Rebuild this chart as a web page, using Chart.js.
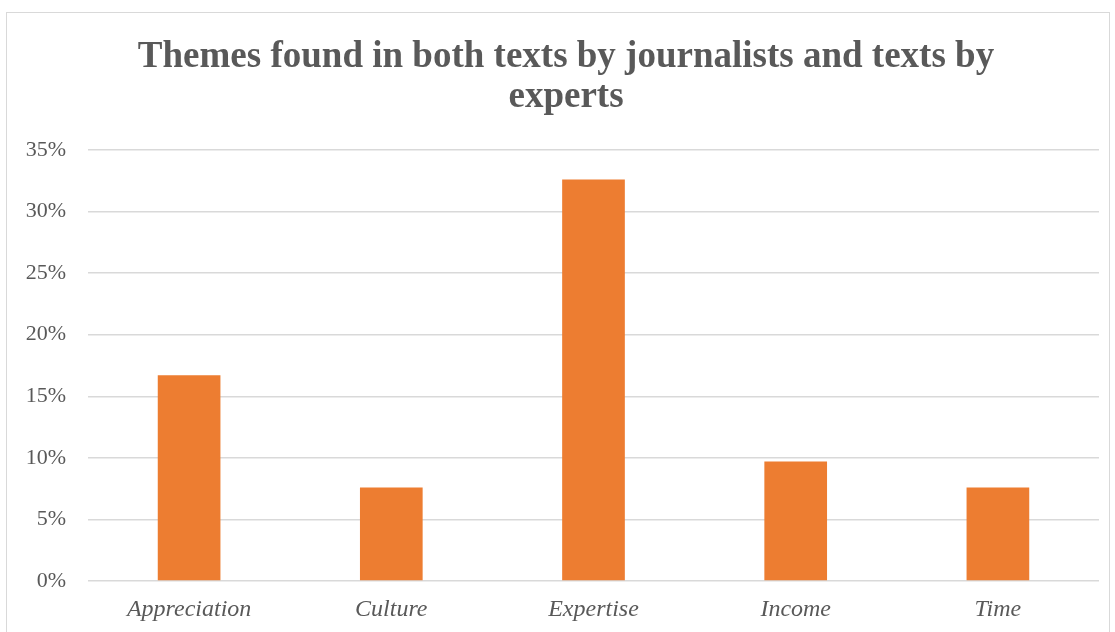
<!DOCTYPE html>
<html>
<head>
<meta charset="utf-8">
<script src="https://cdn.jsdelivr.net/npm/chart.js@4"></script>
<style>
  html, body { margin: 0; padding: 0; background: #fff; }
  #wrap { position: relative; width: 1115px; height: 632px; overflow: hidden; }
  #frame { position: absolute; left: 6px; top: 12px; width: 1102px; height: 640px; border: 1px solid #d9d9d9; pointer-events: none; }
</style>
</head>
<body>
<div id="wrap">
  <canvas id="chart" width="1115" height="632"></canvas>
  <div id="frame"></div>
</div>
<script>
// themes and their share of texts (%)
const themes = ['Appreciation', 'Culture', 'Expertise', 'Income', 'Time'];
const shares = [16.7, 7.6, 32.6, 9.7, 7.6];
const yTicks = [0, 5, 10, 15, 20, 25, 30, 35];

const serif = '"Liberation Serif", "Times New Roman", serif';
const ctx = document.getElementById('chart');

new Chart(ctx, {
  type: 'bar',
  data: {
    labels: themes,
    datasets: [{
      data: shares,
      backgroundColor: '#ED7D31',
      categoryPercentage: 1,
      barPercentage: 0.31
    }]
  },
  options: {
    responsive: false,
    animation: false,
    layout: { padding: { left: 17, right: 0, top: 0, bottom: 0 } },
    plugins: {
      legend: { display: false },
      tooltip: { enabled: false },
      title: {
        display: true,
        text: ['Themes found in both texts by journalists and texts by', 'experts'],
        color: '#595959',
        font: { family: serif, size: 37, weight: 'bold', lineHeight: 1.08 },
        padding: { top: 37, bottom: 33 }
      }
    },
    scales: {
      x: {
        grid: { display: false },
        border: { display: false },
        ticks: {
          color: '#595959',
          padding: 6,
          font: { family: serif, size: 24, style: 'italic' }
        },
        afterFit: s => { s.height = 51; }
      },
      y: {
        min: 0,
        max: 35,
        afterBuildTicks: s => { s.ticks = yTicks.map(v => ({ value: v })); },
        grid: { color: '#d9d9d9', lineWidth: 1.5, drawTicks: false },
        border: { display: false },
        ticks: {
          color: '#595959',
          padding: 22,
          font: { family: serif, size: 22 },
          callback: v => v + '%'
        },
        afterFit: s => { s.width = 71; }
      },
      // blank right-hand margin so the plot stops short of the frame
      pad: {
        position: 'right',
        min: 0,
        max: 35,
        grid: { display: false },
        border: { display: false },
        ticks: { display: false },
        afterFit: s => { s.width = 16; }
      }
    }
  }
});
</script>
</body>
</html>
